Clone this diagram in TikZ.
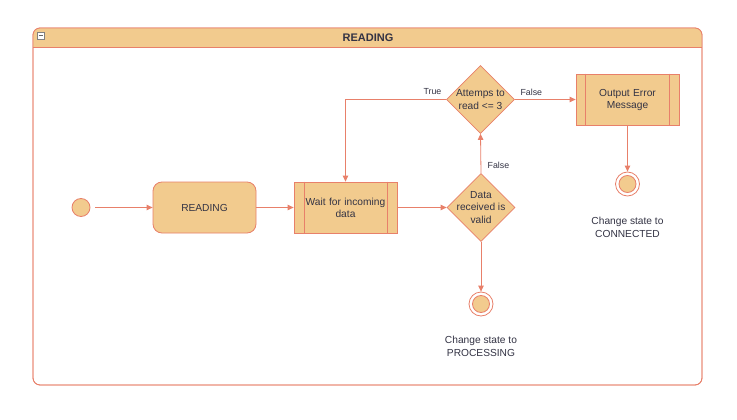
\documentclass[tikz,border=0pt]{standalone}
\usepackage{fontspec}
\setmainfont{Liberation Sans}
\usetikzlibrary{shapes.geometric,arrows.meta}
\definecolor{ln}{HTML}{E8806A}
\definecolor{fl}{HTML}{F2CB8E}
\definecolor{tx}{HTML}{333344}
\tikzset{
  every node/.style={text=tx,font=\fontsize{10.2}{12}\selectfont},
  conn/.style={draw=ln,line width=0.8pt,-{Triangle[length=6pt,width=5.5pt]}},
  plain/.style={draw=ln,line width=0.8pt},
  statebox/.style={draw=ln,fill=fl,line width=0.8pt,rounded corners=9pt,minimum width=103pt,minimum height=51pt,align=center},
  procbox/.style={draw=ln,fill=fl,line width=0.8pt,minimum width=103pt,minimum height=51pt,align=center,text width=84pt},
  decision/.style={diamond,draw=ln,fill=fl,line width=0.8pt,minimum width=68pt,minimum height=68pt,inner sep=0pt},
  dtext/.style={align=center,inner sep=0pt,font=\fontsize{10.2}{12.5}\selectfont},
  lbl/.style={font=\fontsize{8.8}{10}\selectfont},
  caption/.style={align=center,font=\fontsize{10.2}{13}\selectfont}
}
\begin{document}
\begin{tikzpicture}[x=1pt,y=-1pt]
\useasboundingbox (0,0) rectangle (737,420);
% container
\draw[ln,line width=0.8pt,fill=white,rounded corners=7pt] (33,28) rectangle (702,385);
\begin{scope}
\clip[rounded corners=7pt] (33,28) rectangle (702,385);
\fill[fl] (33,28) rectangle (702,47);
\end{scope}
\draw[ln,line width=0.8pt] (33,47) -- (702,47);
\draw[ln,line width=0.8pt,rounded corners=7pt] (33,28) rectangle (702,385);
\node[font=\bfseries\fontsize{11}{12}\selectfont] (title) at (368,37.5) {READING};
\draw[gray,fill=white,line width=0.4pt] (37,32) rectangle (44,39);
\draw[gray!80!black,line width=0.8pt] (38.5,35.5) -- (42.5,35.5);
% nodes
\node[circle,draw=ln,fill=fl,line width=0.8pt,minimum size=18pt,inner sep=0pt] (init) at (81,207.5) {};
\node[statebox] (reading) at (204.5,207.5) {READING};
\node[procbox] (wait) at (345.5,207.5) {Wait for incoming\\data};
\draw[plain] ([xshift=11pt]wait.north west) -- ([xshift=11pt]wait.south west);
\draw[plain] ([xshift=-10pt]wait.north east) -- ([xshift=-10pt]wait.south east);
\node[decision] (valid) at (481,207.5) {};
\node[dtext] (validtext) at (valid.center) {Data\\received is\\valid};
\node[decision] (attempts) at (480.5,99.5) {};
\node[dtext] (attemptstext) at (attempts.center) {Attemps to\\read <= 3};
\node[procbox] (error) at (627.5,99.5) {Output Error\\Message};
\draw[plain] ([xshift=10pt]error.north west) -- ([xshift=10pt]error.south west);
\draw[plain] ([xshift=-10pt]error.north east) -- ([xshift=-10pt]error.south east);
\node[circle,draw=ln,fill=white,line width=0.8pt,minimum size=24pt,inner sep=0pt] (end1) at (481,304) {};
\node[circle,draw=ln,fill=fl,line width=0.8pt,minimum size=17pt,inner sep=0pt] at (end1) {};
\node[circle,draw=ln,fill=white,line width=0.8pt,minimum size=24pt,inner sep=0pt] (end2) at (627.5,184) {};
\node[circle,draw=ln,fill=fl,line width=0.8pt,minimum size=17pt,inner sep=0pt] at (end2) {};
\node[caption] (cap1) at (481,346.5) {Change state to\\PROCESSING};
\node[caption] (cap2) at (627.5,227.5) {Change state to\\CONNECTED};
% connectors
\draw[conn] ([xshift=5pt]init.east) -- (reading.west);
\draw[conn] (reading.east) -- (wait.west);
\draw[conn] (wait.east) -- (valid.west);
\draw[conn] (valid.north) -- (attempts.south) node[lbl,pos=0.2,right=3pt] {False};
\draw[conn] (attempts.west) node[lbl,anchor=south east,xshift=-1pt,yshift=1pt] {True} -- (345.5,99.5) -- (wait.north);
\draw[conn] (attempts.east) -- (error.west) node[lbl,pos=0.27,above=0.5pt] {False};
\draw[conn] (error.south) -- (end2.north);
\draw[conn] (valid.south) -- (end1.north);
\end{tikzpicture}
\end{document}
